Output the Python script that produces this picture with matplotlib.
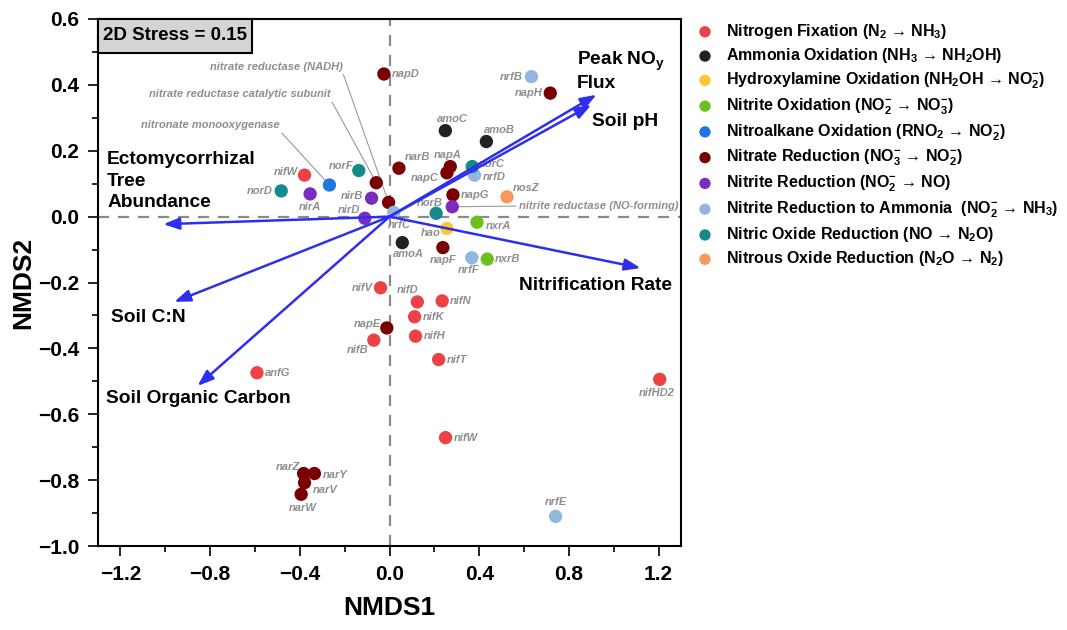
import matplotlib
matplotlib.use("Agg")
import matplotlib.pyplot as plt
from matplotlib.ticker import MultipleLocator, FuncFormatter
from matplotlib.patches import Rectangle

plt.rcParams['font.family'] = ['Liberation Sans', 'DejaVu Sans']
plt.rcParams['mathtext.fontset'] = 'custom'
plt.rcParams['mathtext.rm'] = 'Liberation Sans:bold'
plt.rcParams['mathtext.it'] = 'Liberation Sans:bold'
plt.rcParams['mathtext.bf'] = 'Liberation Sans:bold'

# ---------------- data ----------------
categories = [
    "Nitrogen Fixation (N$_2$ → NH$_3$)",
    "Ammonia Oxidation (NH$_3$ → NH$_2$OH)",
    "Hydroxylamine Oxidation (NH$_2$OH → NO$_2^{-}$)",
    "Nitrite Oxidation (NO$_2^{-}$ → NO$_3^{-}$)",
    "Nitroalkane Oxidation (RNO$_2$ → NO$_2^{-}$)",
    "Nitrate Reduction (NO$_3^{-}$ → NO$_2^{-}$)",
    "Nitrite Reduction (NO$_2^{-}$ → NO)",
    "Nitrite Reduction to Ammonia  (NO$_2^{-}$ → NH$_3$)",
    "Nitric Oxide Reduction (NO → N$_2$O)",
    "Nitrous Oxide Reduction (N$_2$O → N$_2$)",
]
colors = ["#EC4245", "#222222", "#FDC82F", "#6CBF1C", "#1F77E4",
          "#7A0000", "#7B2CBF", "#92B7DF", "#148A8A", "#F8995A"]

fix_genes = ["nifW", "nifV", "nifD", "nifN", "nifK", "nifB", "nifH", "nifT", "anfG", "nifHD2", "nifW"]
fix_x = [-0.379, -0.040, 0.124, 0.235, 0.112, -0.070, 0.116, 0.219, -0.591, 1.205, 0.250]
fix_y = [0.126, -0.216, -0.259, -0.256, -0.304, -0.375, -0.363, -0.434, -0.474, -0.494, -0.671]

amo_genes = ["amoC", "amoB", "amoA"]
amo_x = [0.249, 0.432, 0.057]
amo_y = [0.261, 0.228, -0.079]

hao_genes = ["hao"]
hao_x = [0.256]
hao_y = [-0.036]

nxr_genes = ["nxrA", "nxrB"]
nxr_x = [0.390, 0.436]
nxr_y = [-0.017, -0.129]

nmo_genes = ["nitronate monooxygenase"]
nmo_x = [-0.268]
nmo_y = [0.096]

nar_genes = ["napD", "narB", "nitrate reductase catalytic subunit", "nitrate reductase (NADH)",
             "napH", "napA", "napC", "napG", "napF", "napE", "narZ", "narY", "narV", "narW"]
nar_x = [-0.025, 0.042, -0.059, -0.004, 0.717, 0.271, 0.256, 0.283, 0.238, -0.012,
         -0.383, -0.335, -0.379, -0.394]
nar_y = [0.433, 0.147, 0.103, 0.043, 0.375, 0.152, 0.133, 0.066, -0.094, -0.338,
         -0.780, -0.780, -0.808, -0.843]

nir_genes = ["nirA", "nirB", "nirD", "nitrite reductase (NO-forming)"]
nir_x = [-0.354, -0.080, -0.110, 0.280]
nir_y = [0.069, 0.056, -0.005, 0.030]

nrf_genes = ["nrfB", "nrfD", "nrfC", "nrfF", "nrfE"]
nrf_x = [0.633, 0.379, 0.019, 0.367, 0.741]
nrf_y = [0.425, 0.126, 0.013, -0.125, -0.910]

nor_genes = ["norF", "norD", "norC", "norB"]
nor_x = [-0.137, -0.483, 0.369, 0.208]
nor_y = [0.140, 0.078, 0.152, 0.010]

nos_genes = ["nosZ"]
nos_x = [0.524]
nos_y = [0.060]

env_names = ["Ectomycorrhizal\nTree\nAbundance", "Soil C:N", "Soil Organic Carbon",
             "Peak NO$_\\mathrm{y}$\nFlux", "Soil pH", "Nitrification Rate"]
env_x = [-1.009, -0.960, -0.856, 0.923, 0.900, 1.120]
env_y = [-0.023, -0.259, -0.514, 0.370, 0.339, -0.156]

stress_text = "2D Stress = 0.15"

groups = [
    (fix_genes, fix_x, fix_y), (amo_genes, amo_x, amo_y), (hao_genes, hao_x, hao_y),
    (nxr_genes, nxr_x, nxr_y), (nmo_genes, nmo_x, nmo_y), (nar_genes, nar_x, nar_y),
    (nir_genes, nir_x, nir_y), (nrf_genes, nrf_x, nrf_y), (nor_genes, nor_x, nor_y),
    (nos_genes, nos_x, nos_y),
]

# ---------------- styling / label placement (pixels, y up) ----------------
label_offsets = [
    [(-7, 3, 'right'), (-8, 0, 'right'), (-10, 12, 'center'), (8, 0, 'left'), (8, 0, 'left'),
     (-16, -10, 'center'), (8, 0, 'left'), (8, 0, 'left'), (8, 0, 'left'), (-3, -14, 'center'),
     (8, 0, 'left')],
    [(7, 12, 'center'), (13, 12, 'center'), (6, -11, 'center')],
    [(-6, -5, 'right')],
    [(9, -4, 'left'), (8, 0, 'left')],
    [None],
    [(8, 0, 'left'), (6, 11, 'left'), None, None, (-8, 0, 'right'), (-3, 12, 'center'),
     (-8, -5, 'right'), (8, 0, 'left'), (0, -12, 'center'), (-6, 4, 'right'),
     (-4, 7, 'right'), (8, -1, 'left'), (8, -7, 'left'), (2, -14, 'center')],
    [(0, -13, 'center'), (-8, 2, 'right'), (-5, 8, 'right'), None],
    [(-9, 0, 'right'), (8, -2, 'left'), (5, -13, 'center'), (-3, -12, 'center'), (0, 14, 'center')],
    [(-5, 5, 'right'), (-9, 0, 'right'), (7, 3, 'left'), (7, 10, 'right')],
    [(6, 9, 'left')],
]
# callout text anchor positions (data coords) with alignment
callouts = {
    "nitronate monooxygenase": ((-0.491, 0.262), 'right', 'bottom', (1, 0)),
    "nitrate reductase catalytic subunit": ((-0.263, 0.356), 'right', 'bottom', (1, 0)),
    "nitrate reductase (NADH)": ((-0.210, 0.440), 'right', 'bottom', (1, 0)),
    "nitrite reductase (NO-forming)": ((0.576, 0.032), 'left', 'center', (0, 0.5)),
}
env_label_pos = [((-1.259, 0.108), 'left'), ((-1.241, -0.305), 'left'), ((-1.263, -0.551), 'left'),
                 ((0.837, 0.438), 'left'), ((0.902, 0.288), 'left'), ((0.576, -0.208), 'left')]
env_line_px = 21.5

W, H = 1067, 630
fig = plt.figure(figsize=(W / 100, H / 100), dpi=100)
ax = fig.add_axes([98 / W, 1 - 546 / H, (681 - 98) / W, (546 - 19) / H])
ax.set_xlim(-1.3, 1.3)
ax.set_ylim(-1.0, 0.6)

ax.axhline(0, color='#8A8A8A', lw=1.6, ls=(0, (5, 4)), zorder=1)
ax.axvline(0, color='#8A8A8A', lw=1.6, ls=(0, (5, 4)), zorder=1)

lbl_color = '#8E8E8E'
for (genes, xs, ys), cat, col, offs in zip(groups, categories, colors, label_offsets):
    ax.scatter(xs, ys, s=92, color=col, edgecolors='none', label=cat, zorder=3)
    for g, x, y, off in zip(genes, xs, ys, offs):
        if off is None:
            (tx, ty), ha, va, rp = callouts[g]
            ax.annotate(g, xy=(x, y), xytext=(tx, ty), ha=ha, va=va, fontsize=8,
                        fontweight='bold', fontstyle='italic', color=lbl_color,
                        arrowprops=dict(arrowstyle='-', color='#9A9A9A', lw=0.8,
                                        shrinkA=0, shrinkB=3, relpos=rp), zorder=2)
        else:
            dx, dy, ha = off
            ax.annotate(g, xy=(x, y), xytext=(dx, dy), textcoords='offset pixels',
                        ha=ha, va='center', fontsize=8, fontweight='bold',
                        fontstyle='italic', color=lbl_color, zorder=4)

arrow_col = '#2E2EEE'
for name, ex, ey, ((lx, ly), ha) in zip(env_names, env_x, env_y, env_label_pos):
    ax.annotate('', xy=(ex, ey), xytext=(0, 0),
                arrowprops=dict(arrowstyle='-|>,head_length=0.6,head_width=0.22',
                                color=arrow_col, lw=1.8, shrinkA=0, shrinkB=0,
                                mutation_scale=16), zorder=5)
    lines = name.split('\n')
    n = len(lines)
    for i, line in enumerate(lines):
        dy = ((n - 1) / 2 - i) * env_line_px
        ax.annotate(line, xy=(lx, ly), xytext=(0, dy), textcoords='offset pixels',
                    ha=ha, va='center', fontsize=13.8, fontweight='bold', zorder=6)

# stress box
ax.add_patch(Rectangle((0, 1 - 34 / 527), 154 / 583, 34 / 527, transform=ax.transAxes,
                       facecolor='#D4D4D4', edgecolor='black', lw=1.5, zorder=7, clip_on=False))
ax.text(77 / 583, 1 - 17 / 527, stress_text, transform=ax.transAxes, ha='center', va='center',
        fontsize=13.5, fontweight='bold', zorder=8)

# axes styling
for sp in ax.spines.values():
    sp.set_linewidth(1.5)
ax.xaxis.set_major_locator(MultipleLocator(0.4))
ax.xaxis.set_minor_locator(MultipleLocator(0.2))
ax.yaxis.set_major_locator(MultipleLocator(0.2))
ax.yaxis.set_minor_locator(MultipleLocator(0.1))
fmt = FuncFormatter(lambda v, p: ("%.1f" % v).replace('-', '\u2212') if abs(v) > 1e-9 else "0.0")
ax.xaxis.set_major_formatter(fmt)
ax.yaxis.set_major_formatter(fmt)
ax.tick_params(which='major', direction='out', length=7.5, width=1.2, labelsize=15, pad=6)
ax.tick_params(which='minor', direction='out', length=4, width=1.2)
for t in ax.get_xticklabels() + ax.get_yticklabels():
    t.set_fontweight('bold')
ax.set_xlabel('NMDS1', fontsize=19, fontweight='bold', labelpad=9)
ax.set_ylabel('NMDS2', fontsize=19, fontweight='bold', labelpad=2)

leg = ax.legend(loc='upper left', bbox_to_anchor=(697 / W, 1 - 22 / H),
                bbox_transform=fig.transFigure, frameon=False,
                prop={'weight': 'bold', 'size': 11.5}, handlelength=1.0, handletextpad=0.8,
                labelspacing=0.33, borderpad=0, borderaxespad=0, markerscale=0.85,
                scatterpoints=1)

fig.savefig('out.png', dpi=100)
